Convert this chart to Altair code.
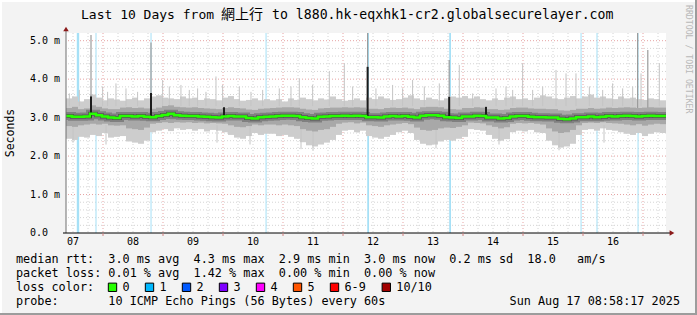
import altair as alt
import pandas as pd

# ---------------- data ----------------
START = 7.3833          # left edge of the plot, in days of August 2025
STEP = 0.1              # one sample every 0.1 day
END = START + 10

median = [3.04,3.02,3.02,3.03,3.10,3.06,3.03,3.00,2.99,3.04,
          3.04,3.03,3.04,3.02,3.01,3.04,3.07,3.10,3.06,3.05,
          3.04,3.04,3.03,3.02,3.01,3.00,3.03,3.04,3.03,3.03,
          2.99,2.98,3.01,3.02,
          3.03,3.04,3.05,3.05,3.04,3.01,2.99,2.98,3.02,3.03,
          3.04,3.04,3.05,3.04,3.05,3.04,3.01,3.01,3.00,3.03,
          3.04,3.03,3.04,3.02,3.00,3.05,3.06,3.06,3.05,3.01,
          3.00,2.99,3.03,
          3.03,3.05,3.04,3.00,3.00,2.98,2.99,3.03,3.04,3.04,
          3.02,3.01,3.01,3.00,3.00,2.97,2.96,2.98,3.01,3.01,
          3.03,3.01,3.02,3.04,3.03,3.04,3.05,3.04,3.03,3.04,
          3.05,3.04,3.04]

hi_out = [3.50,3.55,3.42,3.48,3.60,3.52,3.45,3.50,3.47,3.44,
          3.48,3.52,3.45,3.50,3.55,3.58,3.52,3.50,3.48,3.55,
          3.50,3.52,3.46,3.50,3.48,3.45,3.52,3.56,3.48,3.44,
          3.46,3.50,3.45,3.48,
          3.45,3.48,3.42,3.50,3.46,3.52,3.48,3.45,3.50,3.47,
          3.55,3.48,3.44,3.46,3.50,3.45,3.52,3.48,3.55,3.50,
          3.46,3.48,3.52,3.58,3.50,3.46,3.52,3.48,3.45,3.50,
          3.55,3.52,3.56,
          3.50,3.55,3.48,3.45,3.50,3.46,3.52,3.55,3.48,3.50,
          3.46,3.52,3.58,3.55,3.50,3.48,3.52,3.56,3.50,3.55,
          3.60,3.52,3.55,3.50,3.48,3.55,3.50,3.52,3.48,3.46,
          3.50,3.48,3.45]

lo_out = [2.45,2.42,2.50,2.48,2.55,2.52,2.60,2.48,2.50,2.52,
          2.38,2.35,2.32,2.40,2.62,2.66,2.70,2.65,2.72,2.68,
          2.70,2.66,2.70,2.64,2.68,2.66,2.62,2.55,2.48,2.45,
          2.52,2.60,2.55,2.58,
          2.58,2.52,2.55,2.50,2.45,2.36,2.28,2.25,2.30,2.35,
          2.42,2.55,2.66,2.68,2.62,2.66,2.52,2.48,2.45,2.50,
          2.55,2.62,2.66,2.60,2.42,2.32,2.28,2.30,2.38,2.42,
          2.40,2.45,2.50,
          2.70,2.68,2.66,2.55,2.45,2.40,2.44,2.62,2.66,2.64,
          2.68,2.62,2.60,2.40,2.28,2.22,2.25,2.32,2.55,2.68,
          2.70,2.66,2.72,2.68,2.66,2.62,2.58,2.55,2.60,2.52,
          2.58,2.62,2.60]

hi_mid = [3.25,3.28,3.22,3.24,3.32,3.28,3.24,3.22,3.22,3.26,
          3.27,3.25,3.26,3.24,3.23,3.26,3.30,3.32,3.28,3.27,
          3.26,3.27,3.25,3.24,3.23,3.22,3.25,3.27,3.25,3.24,
          3.21,3.20,3.23,3.24,
          3.25,3.26,3.27,3.27,3.26,3.23,3.21,3.20,3.24,3.25,
          3.26,3.26,3.27,3.26,3.27,3.26,3.23,3.23,3.22,3.25,
          3.26,3.25,3.26,3.24,3.22,3.27,3.28,3.28,3.27,3.23,
          3.22,3.21,3.25,
          3.25,3.27,3.26,3.22,3.22,3.20,3.21,3.25,3.26,3.26,
          3.24,3.23,3.23,3.22,3.22,3.19,3.18,3.20,3.23,3.23,
          3.25,3.23,3.24,3.26,3.25,3.26,3.27,3.26,3.25,3.26,
          3.27,3.26,3.26]

lo_mid = [2.78,2.76,2.80,2.82,2.84,2.82,2.84,2.80,2.79,2.80,
          2.72,2.70,2.68,2.74,2.84,2.86,2.88,2.86,2.88,2.87,
          2.88,2.86,2.87,2.85,2.86,2.85,2.84,2.80,2.76,2.75,
          2.78,2.82,2.80,2.82,
          2.82,2.80,2.82,2.80,2.78,2.70,2.66,2.64,2.68,2.70,
          2.76,2.84,2.87,2.88,2.85,2.87,2.80,2.78,2.76,2.80,
          2.82,2.84,2.86,2.83,2.74,2.68,2.66,2.68,2.72,2.74,
          2.73,2.76,2.80,
          2.87,2.86,2.85,2.80,2.76,2.72,2.75,2.84,2.86,2.85,
          2.86,2.84,2.82,2.72,2.64,2.60,2.62,2.68,2.80,2.86,
          2.87,2.86,2.88,2.86,2.85,2.84,2.82,2.80,2.83,2.79,
          2.82,2.84,2.83]

# thin single-ping spikes above the smoke
spike_days = [7.439,7.605,7.994,8.077,8.216,8.383,8.577,8.994,9.105,9.299,
              9.438,9.577,9.716,9.883,9.994,10.272,10.466,10.661,
              10.938,11.133,11.272,11.494,11.772,12.022,12.161,12.549,12.827,
              12.994,13.160,13.355,13.605,13.938,
              14.161,14.550,14.717,14.828,14.994,15.161,15.328,15.550,15.717,
              15.883,16.106,16.328,16.494,16.661,16.828,16.967,17.272]
spike_tops = [3.63,3.72,3.81,3.67,3.89,3.76,3.67,3.98,3.81,3.85,
              3.72,3.76,3.67,4.07,3.85,3.81,3.67,3.72,
              3.76,3.81,4.02,3.85,4.20,4.41,3.81,3.76,3.85,
              3.76,3.98,3.81,3.89,4.37,
              3.63,3.76,3.81,3.72,4.41,3.72,3.81,4.24,4.15,
              4.15,3.81,3.72,3.89,3.76,3.81,4.15,4.41]

# thin dips below the smoke
dip_days = [7.50,8.05,9.90,10.45,11.30,11.50,13.55,14.60,15.60,16.35]
dip_bottoms = [2.35,2.30,2.35,2.30,2.18,2.15,2.20,2.30,2.15,2.35]

# tall max-rtt spikes
tall_days = [7.80,8.80,12.41,13.77,16.91,17.08]
tall_tops = [5.15,4.95,5.20,4.50,5.20,4.76]

# dark bars (few pings, high rtt)
bar_days = [7.80,8.80,10.017,12.41,13.77,14.383]
bar_tops = [3.55,3.64,3.27,4.32,3.54,3.28]

# packet loss events (start day, duration in days)
loss_start = [7.563,7.875,8.792,10.709,12.404,13.770,15.959,16.225,16.909]
loss_dur = [0.040,0.017,0.017,0.017,0.030,0.030,0.017,0.017,0.017]

day_labels = ["07","08","09","10","11","12","13","14","15","16"]
day_label_pos = [7.5,8.5,9.5,10.5,11.5,12.5,13.5,14.5,15.5,16.5]
y_label_vals = [0,1,2,3,4,5]
y_labels = ["0.0","1.0 m","2.0 m","3.0 m","4.0 m","5.0 m"]

loss_names = ["0","1","2","3","4","5","6-9","10/10"]
loss_colors = ["#26ff00","#00b8ff","#0059ff","#7e00ff","#ff00ff","#ff5500","#ff0000","#a10000"]

title_a = "Last 10 Days from"
title_b = "網上行"
title_c = "to l880.hk-eqxhk1-cr2.globalsecurelayer.com"
line1 = "median rtt:  3.0 ms avg  4.3 ms max  2.9 ms min  3.0 ms now  0.2 ms sd  18.0   am/s"
line2 = "packet loss: 0.01 % avg  1.42 % max  0.00 % min  0.00 % now"
line3 = "loss color:"
line4 = "probe:       10 ICMP Echo Pings (56 Bytes) every 60s"
stamp = "Sun Aug 17 08:58:17 2025"

# ---------------- build ----------------
FONT = "DejaVu Sans Mono"
NB = "\u00a0"
xs = alt.Scale(domain=[START, END], nice=False, zero=False)
ys = alt.Scale(domain=[0, 5.2], nice=False, zero=True)

def X(f):
    return alt.X(f, type="quantitative", scale=xs, axis=None)

def Y(f):
    return alt.Y(f, type="quantitative", scale=ys, axis=None)

n = len(median)
starts = [START + STEP * i for i in range(n)]
smoke = pd.DataFrame({"d": starts, "e": [s + STEP for s in starts],
                      "med": median, "hi_out": hi_out, "lo_out": lo_out,
                      "hi_mid": hi_mid, "lo_mid": lo_mid})
line_df = pd.DataFrame({"d": starts + [END], "med": median + [median[-1]]})

minor_x = [8 + 0.25 * k for k in range(-2, 38) if START < 8 + 0.25 * k < END and k % 4 != 0]
major_x = [d for d in range(8, 18) if START < d < END]
minor_y = [round(0.2 * k, 1) for k in range(1, 26) if k % 5 != 0]
major_y = [1, 2, 3, 4, 5]

one = pd.DataFrame({"a": [0]})

def txt(text, x, y, size=11.8, align="left", color="black", font=FONT, angle=0):
    kw = dict(text=text.replace(" ", NB), align=align, baseline="middle", fontSize=size, font=font, color=color)
    if angle:
        kw["angle"] = angle
    return alt.Chart(one).mark_text(**kw).encode(x=alt.value(x), y=alt.value(y))

layers = []
# grid
layers.append(alt.Chart(pd.DataFrame({"d": minor_x})).mark_rule(color="#d4d4d4", strokeDash=[1, 2], strokeWidth=1).encode(x=X("d")))
layers.append(alt.Chart(pd.DataFrame({"v": minor_y})).mark_rule(color="#d4d4d4", strokeDash=[1, 2], strokeWidth=1).encode(y=Y("v")))
layers.append(alt.Chart(pd.DataFrame({"d": major_x})).mark_rule(color="#e6a3a3", strokeDash=[1, 2], strokeWidth=1).encode(x=X("d")))
layers.append(alt.Chart(pd.DataFrame({"v": major_y})).mark_rule(color="#e6a3a3", strokeDash=[1, 2], strokeWidth=1).encode(y=Y("v")))

# loss lines
loss_df = pd.DataFrame({"d": loss_start, "e": [s + w for s, w in zip(loss_start, loss_dur)]})
layers.append(alt.Chart(loss_df).mark_rect(color="#a6e0f6").encode(x=X("d"), x2="e", y=alt.value(0), y2=alt.value(200)))

# smoke outer band
layers.append(alt.Chart(smoke).mark_rect(color="#cdcdcd").encode(x=X("d"), x2="e", y=Y("hi_out"), y2="lo_out"))
# thin spikes / dips
layers.append(alt.Chart(pd.DataFrame({"d": spike_days, "t": spike_tops, "b": [3.3] * len(spike_days)}))
              .mark_rule(color="#c4c4c4", strokeWidth=1).encode(x=X("d"), y=Y("t"), y2="b"))
layers.append(alt.Chart(pd.DataFrame({"d": dip_days, "t": dip_bottoms, "b": [2.8] * len(dip_days)}))
              .mark_rule(color="#c4c4c4", strokeWidth=1).encode(x=X("d"), y=Y("t"), y2="b"))
layers.append(alt.Chart(pd.DataFrame({"d": tall_days, "t": tall_tops, "b": [3.2] * len(tall_days)}))
              .mark_rule(color="#9c9c9c", strokeWidth=1.2).encode(x=X("d"), y=Y("t"), y2="b"))
# mid band
layers.append(alt.Chart(smoke).mark_rect(color="#a8a8a8").encode(x=X("d"), x2="e", y=Y("hi_mid"), y2="lo_mid"))
# dark core
layers.append(alt.Chart(line_df).mark_line(interpolate="step-after", color="#808080", strokeWidth=8).encode(x=X("d"), y=Y("med")))
layers.append(alt.Chart(line_df).mark_line(interpolate="step-after", color="#555555", strokeWidth=4).encode(x=X("d"), y=Y("med")))
# dark bars
layers.append(alt.Chart(pd.DataFrame({"d": bar_days, "t": bar_tops, "b": [3.0] * len(bar_days)}))
              .mark_rule(color="#1c1c1c", strokeWidth=2).encode(x=X("d"), y=Y("t"), y2="b"))
# median line
layers.append(alt.Chart(line_df).mark_line(interpolate="step-after", color="#26ff00", strokeWidth=2.5).encode(x=X("d"), y=Y("med")))

# axes
layers.append(alt.Chart(one).mark_rule(color="#6e6e6e", strokeWidth=1).encode(x=alt.value(0), y=alt.value(200), y2=alt.value(-4)))
layers.append(alt.Chart(one).mark_rule(color="#000000", strokeWidth=1).encode(x=alt.value(-3), x2=alt.value(604), y=alt.value(200)))
layers.append(alt.Chart(pd.DataFrame({"d": major_x})).mark_rule(color="#d08080", strokeWidth=1).encode(x=X("d"), y=alt.value(200), y2=alt.value(203)))
layers.append(alt.Chart(one).mark_point(shape="triangle-up", filled=True, color="#8b1a1a", size=30, opacity=1).encode(x=alt.value(0), y=alt.value(-4)))
layers.append(alt.Chart(one).mark_point(shape="triangle-right", filled=True, color="#8b1a1a", size=30, opacity=1).encode(x=alt.value(606), y=alt.value(200)))

# axis labels
layers.append(alt.Chart(pd.DataFrame({"d": day_label_pos, "t": day_labels}))
              .mark_text(font=FONT, fontSize=10, baseline="middle", align="center", color="black")
              .encode(x=X("d"), y=alt.value(209), text="t:N"))
layers.append(alt.Chart(pd.DataFrame({"v": y_label_vals, "t": [s.replace(" ", NB) for s in y_labels]}))
              .mark_text(font=FONT, fontSize=10, baseline="middle", align="left", color="black")
              .encode(x=alt.value(-36), y=Y("v"), text="t:N"))
layers.append(txt("Seconds", -55, 100, size=11.5, align="center", angle=270))
layers.append(txt("RRDTOOL / TOBI OETIKER", 622, -28, size=8.2, color="#b8b8b8", angle=90))

# title
layers.append(txt(title_a, 15, -18, size=13))
layers.append(txt(title_b, 176, -18, size=14, align="center", font="Noto Sans CJK TC"))
layers.append(txt(title_c, 206, -18, size=13.2))

# legend text
layers.append(txt(line1, -50, 226.3))
layers.append(txt(line2, -50, 239.7))
layers.append(txt(line3, -50, 254.3))
layers.append(txt(line4, -50, 267.7))
layers.append(txt(stamp, 614, 267.7, align="right"))

sq_px = []
pos = 112.5 - 66
for name in loss_names:
    sq_px.append(pos)
    pos += (len(name) + 4) * 7.4
leg = pd.DataFrame({"px": sq_px, "c": loss_colors, "t": loss_names, "py": [254.3] * len(loss_names)})
layers.append(alt.Chart(leg).mark_point(shape="square", filled=True, size=70, stroke="black", strokeWidth=1, opacity=1)
              .encode(x=alt.X("px:Q", scale=None), y=alt.Y("py:Q", scale=None), fill=alt.Color("c:N", scale=None)))
layers.append(alt.Chart(leg).mark_text(font=FONT, fontSize=11.8, align="left", baseline="middle", dx=10, color="black")
              .encode(x=alt.X("px:Q", scale=None), y=alt.Y("py:Q", scale=None), text="t:N"))

# frame of the image
layers.append(alt.Chart(one).mark_rule(color="#ffffff", strokeWidth=2).encode(x=alt.value(-66), x2=alt.value(631), y=alt.value(-32)))
layers.append(alt.Chart(one).mark_rule(color="#ffffff", strokeWidth=2).encode(x=alt.value(-65), y=alt.value(-33), y2=alt.value(282)))
layers.append(alt.Chart(one).mark_rule(color="#9c9c9c", strokeWidth=2).encode(x=alt.value(630), y=alt.value(-33), y2=alt.value(282)))
layers.append(alt.Chart(one).mark_rule(color="#9c9c9c", strokeWidth=2).encode(x=alt.value(-66), x2=alt.value(631), y=alt.value(281)))

chart = alt.layer(*layers).properties(
    width=600, height=200,
    autosize=alt.AutoSizeParams(type="none"),
    padding={"left": 66, "top": 33, "right": 31, "bottom": 82},
    background="#f3f3f3",
).configure_view(fill="white", stroke=None)

chart.save("out.html", embed_options={"renderer": "svg", "actions": False})
